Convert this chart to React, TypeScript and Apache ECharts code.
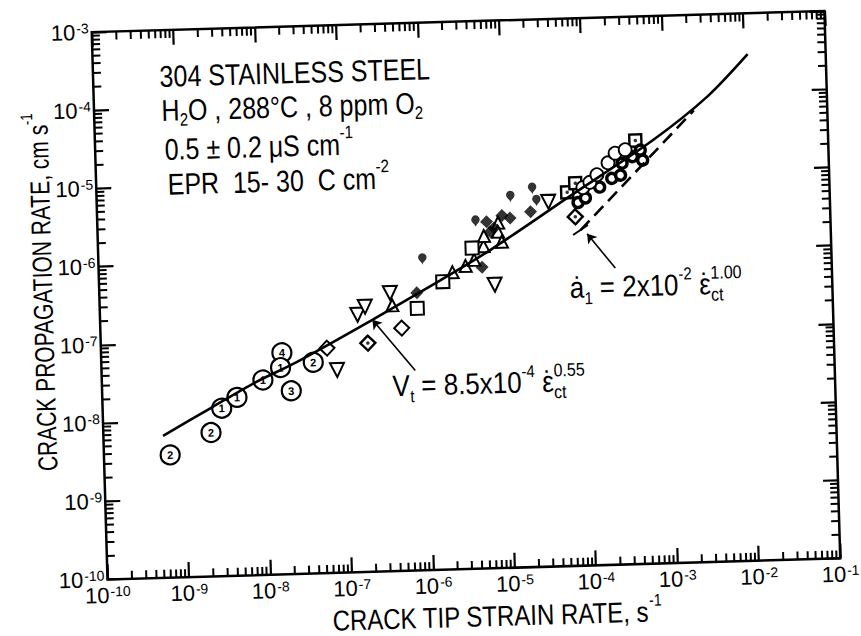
import React, { useEffect, useRef } from 'react';
import * as echarts from 'echarts';

const FONT = "'Liberation Sans', Arial, Helvetica, sans-serif";

const X_MIN = 1e-10;
const X_MAX = 1e-1;
const Y_MIN = 1e-10;
const Y_MAX = 1e-3;
const xDecades = [-10, -9, -8, -7, -6, -5, -4, -3, -2, -1];
const yDecades = [-10, -9, -8, -7, -6, -5, -4, -3];
const minorSteps = [2, 3, 4, 5, 6, 7, 8, 9];

// fitted curve
const fitX = [5.4e-10, 2.1e-9, 7.9e-9, 2.5e-8, 2.2e-7, 1.55e-6, 6.5e-6, 6.2e-5, 7.1e-4, 3.4e-3, 1.1e-2];
const fitY = [6.5e-9, 1.41e-8, 2.95e-8, 5.1e-8, 1.66e-7, 5.0e-7, 1.17e-6, 5.2e-6, 2.6e-5, 8.9e-5, 3.0e-4];
// dashed line a = 2e-2 * eps
const dashX = [8.5e-5, 2.3e-3];
const dashY = [1.95e-6, 6.0e-5];
const barX = [6.85e-5, 1.05e-4];
const barY = [1.7e-6, 2.25e-6];
// annotation arrows [tail, head]
const vArrowX = [7.1e-7, 2.2e-7];
const vArrowY = [3.6e-8, 1.66e-7];
const aArrowX = [2.2e-4, 1.02e-4];
const aArrowY = [6.2e-7, 1.74e-6];

// circled numbered specimens
const circledX = [6.5e-10, 2.1e-9, 2.9e-9, 4.5e-9, 9.5e-9, 1.66e-8, 1.58e-8, 2.1e-8, 4.0e-8];
const circledY = [3.7e-9, 6.9e-9, 1.4e-8, 1.9e-8, 3.1e-8, 6.8e-8, 4.4e-8, 2.2e-8, 5.0e-8];
const circledLabel = ['2', '2', '1', '1', '1', '4', '1', '3', '2'];

const diamondX = [5.96e-8, 5.0e-7];
const diamondY = [7.5e-8, 1.27e-7];
const dotDiamondX = [1.9e-7, 7.4e-5];
const dotDiamondY = [8.4e-8, 2.9e-6];

const triDownX = [7.8e-8, 1.45e-7, 1.8e-7, 3.7e-7, 7.2e-6, 3.5e-5];
const triDownY = [3.9e-8, 1.95e-7, 2.45e-7, 3.6e-7, 4.2e-7, 4.6e-6];

const triUpX = [3.9e-7, 2.2e-6, 3.2e-6, 4.1e-6, 5.4e-6, 5.5e-6, 8.3e-6, 8.2e-6, 9.1e-6];
const triUpY = [2.5e-7, 6.3e-7, 7.5e-7, 8.9e-7, 1.32e-6, 1.78e-6, 2.6e-6, 2.0e-6, 1.48e-6];

const squareX = [7.9e-7, 1.66e-6, 3.9e-6];
const squareY = [2.24e-7, 4.8e-7, 1.26e-6];

const dotSquareX = [6.0e-5, 7.6e-5, 4.3e-4];
const dotSquareY = [6.0e-6, 7.8e-6, 2.6e-5];

const circleX = [9.4e-5, 1.15e-4, 1.41e-4, 1.95e-4, 2.4e-4, 3.2e-4];
const circleY = [6.8e-6, 7.9e-6, 9.8e-6, 1.38e-5, 1.82e-5, 2.0e-5];

const ringX = [8.1e-5, 1.0e-4, 1.51e-4, 2.14e-4, 2.75e-4, 2.9e-4, 3.9e-4, 4.9e-4, 5.2e-4];
const ringY = [4.4e-6, 5.0e-6, 6.8e-6, 8.7e-6, 9.5e-6, 1.35e-5, 1.62e-5, 1.95e-5, 1.45e-5];

const filledDiamondX = [7.9e-7, 5.1e-6, 6.0e-6, 6.6e-6, 7.4e-6, 9.3e-6, 1.17e-5, 2.1e-5];
const filledDiamondY = [3.55e-7, 7.1e-7, 2.7e-6, 2.0e-6, 2.24e-6, 3.2e-6, 2.95e-6, 3.5e-6];

const pinX = [9.5e-7, 4.4e-6, 1.2e-5, 2.24e-5, 2.5e-5];
const pinY = [7.9e-7, 2.3e-6, 4.6e-6, 5.75e-6, 4.0e-6];

const zip = (xs: number[], ys: number[]) => xs.map((x, i) => [x, ys[i]]);

type Piece = { t: string; s: number; dy?: number; dx?: number; stack?: boolean };

function textBlock(
  x: number,
  y: number,
  pieces: Piece[],
  opts: { scaleY?: number; align?: 'left' | 'center'; rotation?: number } = {}
) {
  const canvas = document.createElement('canvas');
  const ctx = canvas.getContext('2d');
  let cursor = 0;
  let segStart = 0;
  const placed = pieces.map((p) => {
    let w = p.t.length * p.s * 0.55;
    if (ctx) {
      ctx.font = `${p.s}px ${FONT}`;
      w = ctx.measureText(p.t).width;
    }
    const px = (p.stack ? segStart : cursor) + (p.dx ?? 0);
    if (!p.stack) segStart = cursor;
    cursor = Math.max(cursor, px + w);
    return { p, px };
  });
  const shift = opts.align === 'center' ? -cursor / 2 : 0;
  return {
    type: 'group',
    x,
    y,
    rotation: opts.rotation ?? 0,
    scaleY: opts.scaleY ?? 1,
    silent: true,
    children: placed.map(({ p, px }) => ({
      type: 'text',
      x: px + shift,
      y: p.dy ?? 0,
      silent: true,
      style: {
        text: p.t,
        font: `${p.s}px ${FONT}`,
        fill: '#000',
        textAlign: 'left',
        textVerticalAlign: 'middle',
      },
    })),
  };
}

// minor ticks: [x, y, side] side 0=bottom 1=top 2=left 3=right
function buildMinorTicks() {
  const out: number[][] = [];
  xDecades.forEach((d) => {
    if (d >= -1) return;
    minorSteps.forEach((m) => {
      const v = m * Math.pow(10, d);
      out.push([v, Y_MIN, 0]);
      out.push([v, Y_MAX, 1]);
    });
  });
  yDecades.forEach((d) => {
    if (d >= -3) return;
    minorSteps.forEach((m) => {
      const v = m * Math.pow(10, d);
      out.push([X_MIN, v, 2]);
      out.push([X_MAX, v, 3]);
    });
  });
  return out;
}

const labelRich = {
  b: { fontSize: 22, lineHeight: 22, fontFamily: FONT, color: '#000', padding: [6, 0, 0, 0], verticalAlign: 'bottom' },
  s: { fontSize: 14, lineHeight: 14, fontFamily: FONT, color: '#000', padding: [0, 0, 0, 1], verticalAlign: 'top' },
};
const expLabel = (v: number) => `{b|10}{s|${Math.round(Math.log10(v))}}`;

const MAJOR = 15;
const MINOR = 8;

export default function App() {
  const ref = useRef<HTMLDivElement>(null);
  useEffect(() => {
    if (!ref.current) return;
    const chart = echarts.init(ref.current, undefined, { renderer: 'svg' });
    const openStyle = (bw = 2) => ({ color: '#fff', borderColor: '#000', borderWidth: bw, opacity: 1 });
    const majorTick = { show: true, inside: true, length: MAJOR, lineStyle: { color: '#000', width: 2.2 } };
    const baseAxis = {
      type: 'log',
      logBase: 10,
      axisLine: { show: false },
      axisTick: majorTick,
      splitLine: { show: false },
    };
    const epsDot = (sup: string): Piece[] => [
      { t: ' ', s: 26 },
      { t: 'ε', s: 26 },
      { t: '˙', s: 26, dx: 1.5, stack: true },
      { t: sup, s: 16, dy: -10 },
      { t: 'ct', s: 16, dy: 9, stack: true },
    ];
    const option: any = {
      animation: false,
      backgroundColor: '#fff',
      grid: {
        left: 99.5,
        top: 21.5,
        width: 733,
        height: 547.5,
        show: true,
        borderColor: '#000',
        borderWidth: 2.5,
        backgroundColor: 'transparent',
      },
      xAxis: [
        { ...baseAxis, min: X_MIN, max: X_MAX, position: 'bottom', axisLabel: { margin: 5, formatter: expLabel, rich: labelRich } },
        { ...baseAxis, min: X_MIN, max: X_MAX, position: 'top', axisLabel: { show: false } },
      ],
      yAxis: [
        { ...baseAxis, min: Y_MIN, max: Y_MAX, position: 'left', axisLabel: { margin: 3, formatter: expLabel, rich: labelRich } },
        { ...baseAxis, min: Y_MIN, max: Y_MAX, position: 'right', axisLabel: { show: false } },
      ],
      graphic: [
        textBlock(166, 68, [{ t: '304 STAINLESS STEEL', s: 25 }], { scaleY: 1.2 }),
        textBlock(
          167,
          102,
          [
            { t: 'H', s: 25 },
            { t: '2', s: 15, dy: 8 },
            { t: 'O , 288°C , 8 ppm O', s: 25 },
            { t: '2', s: 15, dy: 8 },
          ],
          { scaleY: 1.2 }
        ),
        textBlock(
          169,
          141,
          [
            { t: '0.5 ± 0.2 μS cm', s: 25 },
            { t: '-1', s: 15, dy: -10 },
          ],
          { scaleY: 1.2 }
        ),
        textBlock(
          171,
          176,
          [
            { t: 'EPR  15- 30  C cm', s: 25 },
            { t: '-2', s: 15, dy: -10 },
          ],
          { scaleY: 1.2 }
        ),
        textBlock(
          390,
          384,
          [
            { t: 'V', s: 26 },
            { t: 't', s: 15, dy: 9 },
            { t: ' = 8.5x10', s: 26 },
            { t: '-4', s: 15, dy: -10 },
            ...epsDot('0.55'),
          ],
          { scaleY: 1.15 }
        ),
        textBlock(
          570,
          291,
          [
            { t: 'ȧ', s: 26 },
            { t: '1', s: 15, dy: 9 },
            { t: ' = 2x10', s: 26 },
            { t: '-2', s: 15, dy: -10 },
            ...epsDot('1.00'),
          ],
          { scaleY: 1.15 }
        ),
        textBlock(
          488,
          617,
          [
            { t: 'CRACK TIP STRAIN RATE, s', s: 24 },
            { t: '-1', s: 14, dy: -10 },
          ],
          { scaleY: 1.2, align: 'center' }
        ),
        textBlock(
          43,
          280,
          [
            { t: 'CRACK PROPAGATION RATE, cm s', s: 21 },
            { t: '-1', s: 13, dy: -9 },
          ],
          { scaleY: 1.3, align: 'center', rotation: Math.PI / 2 }
        ),
      ],
      series: [
        {
          type: 'custom',
          name: 'minor ticks',
          silent: true,
          clip: false,
          z: 5,
          dimensions: ['x', 'y', 'side'],
          encode: { x: 'x', y: 'y' },
          data: buildMinorTicks(),
          renderItem: (_p: any, api: any) => {
            const side = api.value(2);
            const pt = api.coord([api.value(0), api.value(1)]);
            let x2 = pt[0];
            let y2 = pt[1];
            if (side === 0) y2 -= MINOR;
            else if (side === 1) y2 += MINOR;
            else if (side === 2) x2 += MINOR;
            else x2 -= MINOR;
            return {
              type: 'line',
              shape: { x1: pt[0], y1: pt[1], x2, y2 },
              style: { stroke: '#000', lineWidth: 2, fill: null },
            };
          },
        },
        {
          type: 'line',
          name: 'fit',
          data: zip(fitX, fitY),
          smooth: 0.3,
          symbol: 'none',
          silent: true,
          lineStyle: { color: '#000', width: 2.6 },
        },
        {
          type: 'line',
          name: 'dashed',
          data: zip(dashX, dashY),
          symbol: 'none',
          silent: true,
          lineStyle: { color: '#000', width: 2.6, type: [13, 7] },
        },
        {
          type: 'line',
          name: 'bar',
          data: zip(barX, barY),
          symbol: 'none',
          silent: true,
          lineStyle: { color: '#000', width: 2 },
        },
        {
          type: 'lines',
          coordinateSystem: 'cartesian2d',
          silent: true,
          symbol: ['none', 'arrow'],
          symbolSize: 9,
          lineStyle: { color: '#000', width: 1.6, opacity: 1, curveness: 0 },
          data: [
            { coords: [[vArrowX[0], vArrowY[0]], [vArrowX[1], vArrowY[1]]] },
            { coords: [[aArrowX[0], aArrowY[0]], [aArrowX[1], aArrowY[1]]] },
          ],
        },
        {
          type: 'scatter',
          name: 'open diamond',
          data: zip(diamondX, diamondY),
          symbol: 'diamond',
          symbolSize: 15,
          itemStyle: openStyle(2),
        },
        {
          type: 'scatter',
          name: 'dotted diamond',
          data: zip(dotDiamondX, dotDiamondY),
          symbol: 'diamond',
          symbolSize: 15,
          itemStyle: openStyle(2.4),
        },
        {
          type: 'scatter',
          name: 'triangle down',
          data: zip(triDownX, triDownY),
          symbol: 'triangle',
          symbolRotate: 180,
          symbolSize: 14,
          itemStyle: openStyle(2),
        },
        {
          type: 'scatter',
          name: 'triangle up',
          data: zip(triUpX, triUpY),
          symbol: 'triangle',
          symbolSize: 12,
          itemStyle: openStyle(2),
        },
        {
          type: 'scatter',
          name: 'square',
          data: zip(squareX, squareY),
          symbol: 'rect',
          symbolSize: 13,
          itemStyle: openStyle(2),
        },
        {
          type: 'scatter',
          name: 'dotted square',
          data: zip(dotSquareX, dotSquareY),
          symbol: 'rect',
          symbolSize: 12,
          itemStyle: openStyle(2.4),
        },
        {
          type: 'scatter',
          name: 'ring',
          data: zip(ringX, ringY),
          symbol: 'circle',
          symbolSize: 10,
          itemStyle: openStyle(3.4),
        },
        {
          type: 'scatter',
          name: 'circle',
          data: zip(circleX, circleY),
          symbol: 'circle',
          symbolSize: 13,
          itemStyle: openStyle(1.8),
        },
        {
          type: 'scatter',
          name: 'filled diamond',
          data: zip(filledDiamondX, filledDiamondY),
          symbol: 'diamond',
          symbolSize: 13,
          itemStyle: { color: '#000' },
        },
        {
          type: 'scatter',
          name: 'pin',
          data: zip(pinX, pinY),
          symbol: 'pin',
          symbolSize: 14,
          itemStyle: { color: '#000' },
        },
        {
          type: 'scatter',
          name: 'dots',
          data: zip(dotSquareX.concat(dotDiamondX), dotSquareY.concat(dotDiamondY)),
          symbol: 'circle',
          symbolSize: 3.5,
          itemStyle: { color: '#000' },
        },
        {
          type: 'scatter',
          name: 'specimens',
          data: zip(circledX, circledY),
          symbol: 'circle',
          symbolSize: 19,
          itemStyle: openStyle(2.2),
          label: {
            show: true,
            position: 'inside',
            formatter: (p: any) => circledLabel[p.dataIndex],
            fontSize: 11,
            fontWeight: 'bold',
            fontFamily: FONT,
            color: '#000',
          },
        },
      ],
    };
    chart.setOption(option);
    return () => chart.dispose();
  }, []);
  return (
    <div
      ref={ref}
      style={{
        position: 'absolute',
        left: 0,
        top: 0,
        width: 861,
        height: 636,
        transform: 'rotate(-1.65deg)',
        transformOrigin: '465px 296px',
      }}
    />
  );
}
